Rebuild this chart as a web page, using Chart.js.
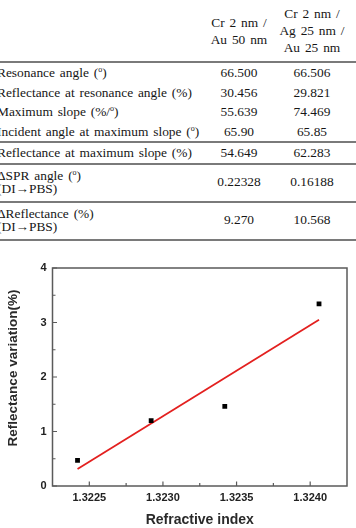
<!DOCTYPE html>
<html>
<head>
<meta charset="utf-8">
<script src="https://cdn.jsdelivr.net/npm/chart.js@4.4.1/dist/chart.umd.min.js"></script>
<style>
  body { margin: 0; background: #fff; width: 356px; height: 528px; overflow: hidden; position: relative; }
  #tbl { position: absolute; left: -3px; top: 0; width: 359px; border-collapse: collapse;
         font-family: "Liberation Serif", "Times New Roman", serif; font-size: 13.4px; color: #161616; word-spacing: 1.5px; }
  #tbl td { padding: 0; white-space: nowrap; vertical-align: middle; }
  #tbl td.v { text-align: center; }
  #tbl tr.hd td { height: 61px; line-height: 17px; border-bottom: 2px solid #7a7a7a; }
  #tbl tr.r1 td { height: 19.5px; line-height: 13px; }
  #tbl tr.r2 td { height: 36px; line-height: 12.5px; }
  #tbl tr.sep td { border-bottom: 2px solid #7a7a7a; }
  #tbl sup { font-size: 8px; vertical-align: 5px; line-height: 0; }
  #box { position: absolute; left: 0; top: 240px; width: 356px; height: 288px; }
</style>
</head>
<body>
<table id="tbl"><tbody id="tb"></tbody></table>
<div id="box"><canvas id="c"></canvas></div>
<script>
// ---- table text ----
const headers = [['Cr 2 nm /', 'Au 50 nm'], ['Cr 2 nm /', 'Ag 25 nm /', 'Au 25 nm']];
const rowLabels = [
  ['Resonance angle (<sup>o</sup>)'],
  ['Reflectance at resonance angle (%)'],
  ['Maximum slope (%/<sup>o</sup>)'],
  ['Incident angle at maximum slope (<sup>o</sup>)'],
  ['Reflectance at maximum slope (%)'],
  ['&Delta;SPR angle (<sup>o</sup>)', '(DI&rarr;PBS)'],
  ['&Delta;Reflectance (%)', '(DI&rarr;PBS)']
];
const col1Values = ['66.500', '30.456', '55.639', '65.90', '54.649', '0.22328', '9.270'];
const col2Values = ['66.506', '29.821', '74.469', '65.85', '62.283', '0.16188', '10.568'];
const ruleAfter = [false, false, false, true, true, true, true];

// ---- chart data ----
const refractiveIndex = [1.32242, 1.32292, 1.32342, 1.32406];
const reflectanceVariation = [0.47, 1.20, 1.46, 3.34];
const fitX = [1.32242, 1.32406];
const fitY = [0.31, 3.05];
const xMajor = [1.3225, 1.3230, 1.3235, 1.3240];
const xMinor = [1.32275, 1.32325, 1.32375];
const yMajor = [0, 1, 2, 3, 4];
const yMinor = [0.5, 1.5, 2.5, 3.5];
const yTitle = 'Reflectance variation(%)';

// build table
const tb = document.getElementById('tb');
let html = '<tr class="hd"><td style="width:205px"></td>' +
  headers.map((h, i) => `<td class="v" style="width:${i ? 72 : 74}px">${h.join('<br>')}</td>`).join('') +
  '<td></td></tr>';
rowLabels.forEach((lab, i) => {
  const cls = (lab.length > 1 ? 'r2' : 'r1') + (ruleAfter[i] ? ' sep' : '');
  html += `<tr class="${cls}"><td>${lab.join('<br>')}</td><td class="v">${col1Values[i]}</td><td class="v">${col2Values[i]}</td><td></td></tr>`;
});
tb.innerHTML = html;

// inward tick marks + frame + y title (sits a bit above the plot middle)
const frameTicks = {
  id: 'frameTicks',
  afterDraw(chart) {
    const { ctx, chartArea: a, scales } = chart;
    ctx.save();
    ctx.strokeStyle = '#5a5a5a';
    ctx.lineWidth = 1.5;
    ctx.strokeRect(a.left, a.top, a.right - a.left, a.bottom - a.top);
    ctx.lineWidth = 1.2;
    ctx.beginPath();
    xMajor.concat(xMinor).forEach(v => {
      const x = scales.x.getPixelForValue(v);
      const len = xMajor.includes(v) ? 4.5 : 3;
      ctx.moveTo(x, a.bottom); ctx.lineTo(x, a.bottom - len);
    });
    yMajor.concat(yMinor).forEach(v => {
      const y = scales.y.getPixelForValue(v);
      const len = yMajor.includes(v) ? 4.5 : 3;
      ctx.moveTo(a.left, y); ctx.lineTo(a.left + len, y);
    });
    ctx.stroke();

    ctx.translate(13.5, (a.top + a.bottom) / 2 - 9);
    ctx.rotate(-Math.PI / 2);
    ctx.font = 'bold 13.5px "Liberation Sans", Arial, sans-serif';
    ctx.fillStyle = '#2a2a2a';
    ctx.textAlign = 'center';
    ctx.textBaseline = 'middle';
    ctx.fillText(yTitle, 0, 0);
    ctx.restore();
  }
};

const tickFont = { family: '"Liberation Sans", Arial, sans-serif', size: 11, weight: 'bold' };

new Chart(document.getElementById('c'), {
  type: 'scatter',
  data: {
    datasets: [{
      data: refractiveIndex.map((x, i) => ({ x, y: reflectanceVariation[i] })),
      pointStyle: 'rect',
      pointRadius: 3.4,
      backgroundColor: '#000',
      borderColor: '#000',
      borderWidth: 0
    }, {
      type: 'line',
      data: fitX.map((x, i) => ({ x, y: fitY[i] })),
      borderColor: '#e3201f',
      borderWidth: 1.8,
      pointRadius: 0,
      fill: false
    }]
  },
  options: {
    responsive: true,
    maintainAspectRatio: false,
    animation: false,
    layout: { padding: { top: 28, right: 9, left: 0, bottom: 0 } },
    scales: {
      x: {
        type: 'linear',
        min: 1.32225,
        max: 1.32425,
        afterBuildTicks: s => { s.ticks = xMajor.concat(xMinor).sort((a, b) => a - b).map(v => ({ value: v })); },
        afterFit: s => { s.height = 42; },
        grid: { display: false, drawTicks: false },
        border: { display: false },
        ticks: {
          autoSkip: false, maxRotation: 0, padding: 5, color: '#222', font: tickFont,
          callback: v => xMajor.some(m => Math.abs(m - v) < 1e-7) ? v.toFixed(4) : ''
        },
        title: { display: true, text: 'Refractive index', color: '#2a2a2a',
                 font: { family: '"Liberation Sans", Arial, sans-serif', size: 14, weight: 'bold' },
                 padding: { top: 0, bottom: -1 } }
      },
      y: {
        min: 0,
        max: 4,
        afterBuildTicks: s => { s.ticks = yMajor.concat(yMinor).sort((a, b) => a - b).map(v => ({ value: v })); },
        afterFit: s => { s.width = 52.5; },
        grid: { display: false, drawTicks: false },
        border: { display: false },
        ticks: {
          autoSkip: false, padding: 6, color: '#222', font: tickFont,
          callback: v => Number.isInteger(v) ? String(v) : ''
        }
      }
    },
    plugins: {
      legend: { display: false },
      tooltip: { enabled: false }
    }
  },
  plugins: [frameTicks]
});
</script>
</body>
</html>
